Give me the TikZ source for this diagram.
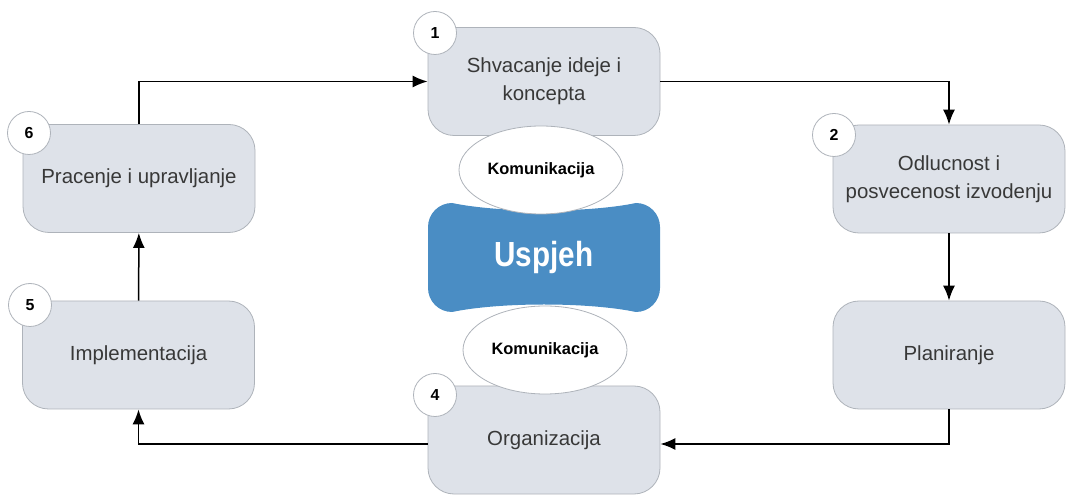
\documentclass[tikz,border=0pt]{standalone}
\usepackage{fontspec}
\setmainfont{Liberation Sans}
\newfontfamily\uspfont[FakeStretch=0.85]{Liberation Sans}
\usetikzlibrary{arrows.meta,shapes.geometric}
\definecolor{boxfill}{HTML}{DEE2E9}
\definecolor{boxline}{HTML}{AEB3BA}
\definecolor{uspblue}{HTML}{4A8DC4}
\definecolor{txtgrey}{HTML}{383838}

\begin{document}
\begin{tikzpicture}[>={Latex[length=15bp,width=12bp]}, line width=1.5bp,
  stage/.style={draw=boxline, line width=0.8bp, fill=boxfill, rounded corners=26bp,
    minimum width=232bp, minimum height=108bp, align=center, text=txtgrey,
    font=\fontsize{20.5}{28}\selectfont},
  numc/.style={circle, draw=boxline, line width=0.8bp, fill=white, minimum size=43bp,
    inner sep=0pt, font=\bfseries\fontsize{16}{16}\selectfont},
  komm/.style={ellipse, draw=boxline, line width=0.8bp, fill=white, minimum width=164bp,
    minimum height=88bp, inner sep=0pt, font=\bfseries\fontsize{16.5}{16.5}\selectfont}]
  \useasboundingbox (0,0) rectangle (1066bp,495bp);
  %% stages
  \node (b1) at (544bp,413.5bp) [stage] {Shvacanje ideje i\\koncepta};
  \node (b2) at (949bp,316bp) [stage] {Odlucnost i\\posvecenost izvodenju};
  \node (b3) at (949bp,140bp) [stage] {Planiranje};
  \node (b4) at (544bp,55bp) [stage] {Organizacija};
  \node (b5) at (138.5bp,140bp) [stage] {Implementacija};
  \node (b6) at (139bp,316.5bp) [stage] {Pracenje i upravljanje};
  %% centre
  \fill[uspblue] (452bp,292bp) .. controls (500bp,282bp) and (588bp,282bp) .. (636bp,292bp)
    arc[start angle=90,end angle=0,radius=24bp] -- (660bp,207bp)
    arc[start angle=0,end angle=-90,radius=24bp]
    .. controls (588bp,193bp) and (500bp,193bp) .. (452bp,183bp)
    arc[start angle=270,end angle=180,radius=24bp] -- (428bp,268bp)
    arc[start angle=180,end angle=90,radius=24bp] -- cycle;
  \node (usp) at (544bp,238bp) [text=white, font=\uspfont\bfseries\fontsize{35}{35}\selectfont] {Uspjeh};
  \node (k1) at (541bp,325bp) [komm] {Komunikacija};
  \node (k2) at (545bp,145bp) [komm] {Komunikacija};
  %% flow
  \draw [->] (b6.north) |- (b1.west);
  \draw [->] (b1.east) -| (b2.north);
  \draw [->] (b2) -- (b3);
  \draw [->] (b3.south) |- ([yshift=-4bp]b4.east);
  \draw [->] ([yshift=-4bp]b4.west) -| (b5.south);
  \draw [->] (b5) -- (b6);
  %% numbers
  \node (n1) at (435bp,462bp) [numc] {1};
  \node (n2) at (834bp,360bp) [numc] {2};
  \node (n4) at (435bp,100bp) [numc] {4};
  \node (n5) at (30bp,190bp) [numc] {5};
  \node (n6) at (29bp,362bp) [numc] {6};
\end{tikzpicture}
\end{document}
